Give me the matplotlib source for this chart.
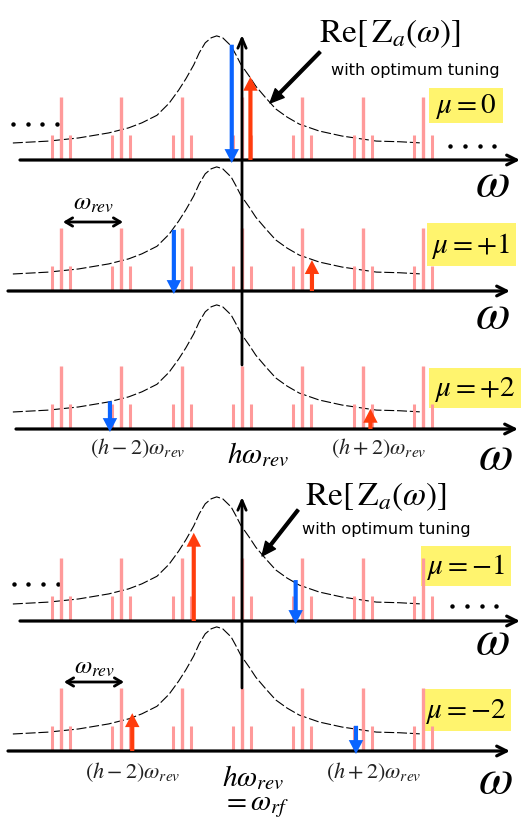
import matplotlib
matplotlib.use('Agg')
import matplotlib.pyplot as plt
from matplotlib.patches import Rectangle

plt.rcParams['mathtext.fontset'] = 'stix'
plt.rcParams['font.family'] = ['DejaVu Sans']

# ---------------- data (x in units of omega_rev, 0 = h*omega_rev) ----------------
harmonics = [-3, -2, -1, 0, 1, 2, 3]
main_amp = 1.0
sideband_offset = 0.15
sideband_amp = 0.40

# Re[Z_a(omega)] curve (amplitude units: main line = 1)
curve_x = [-3.80, -3.21, -2.71, -2.21, -1.88, -1.66, -1.41, -1.21, -1.05, -0.93,
           -0.80, -0.71, -0.61, -0.51, -0.42, -0.32, -0.18, -0.10, -0.02, 0.12,
           0.23, 0.40, 0.56, 0.75, 0.95, 1.28, 1.66, 2.23, 2.61, 2.99]
curve_y = [0.27, 0.30, 0.35, 0.43, 0.51, 0.59, 0.71, 0.90, 1.11, 1.29,
           1.51, 1.70, 1.86, 1.94, 1.97, 1.94, 1.81, 1.67, 1.52, 1.33,
           1.17, 0.98, 0.81, 0.68, 0.57, 0.46, 0.38, 0.30, 0.29, 0.27]

mu_labels = [r'$\mu=0$', r'$\mu=+1$', r'$\mu=+2$', r'$\mu=-1$', r'$\mu=-2$']
blue_pos = [-0.17, -1.13, -2.19, 0.89, 1.89]
blue_amp = [1.83, 0.97, 0.44, 0.65, 0.40]
red_pos = [0.14, 1.16, 2.13, -0.80, -1.82]
red_amp = [1.32, 0.49, 0.32, 1.40, 0.60]

# ---------------- layout ----------------
W, H = 521, 822
PX = 60.3      # pixels per omega_rev
X0 = 242       # pixel x of h*omega_rev
AMP = 63       # pixels per amplitude unit
baselines = [160, 291, 429, 621, 751]
axis_x = [(20, 520), (8, 510), (16, 518), (20, 520), (8, 510)]
boxes = [(429, 88, 503, 123), (427, 223, 516, 266), (429, 368, 521, 408),
         (421, 546, 511, 586), (422, 689, 511, 731)]
omega_lbl = [(492, 182), (492, 314), (495, 455), (492, 640), (495, 779)]

PINK = '#FF9A9A'
BLUE = '#0A64FF'
RED = '#FF3D0D'
YELLOW = '#FFF46E'


def fx(px):
    return (px - X0) / PX


fig = plt.figure(figsize=(W / 100, H / 100), dpi=100)
ax = fig.add_axes([0, 0, 1, 1])
ax.set_xlim(fx(0), fx(W))
ax.set_ylim(H, 0)
ax.axis('off')

simple = 'simple,head_width=0.52,head_length=0.5,tail_width=0.15'

for i, base in enumerate(baselines):
    # yellow box with mu label
    x1, y1, x2, y2 = boxes[i]
    ax.add_patch(Rectangle((fx(x1), y1), fx(x2) - fx(x1), y2 - y1,
                           facecolor=YELLOW, edgecolor='none', zorder=1))
    ax.text(fx((x1 + x2) / 2), (y1 + y2) / 2 + 1, mu_labels[i], fontsize=21,
            ha='center', va='center', zorder=6)

    # resonance curve
    ax.plot(curve_x, [base - v * AMP for v in curve_y], color='black', lw=0.8,
            ls=(0, (9, 2.5)), zorder=2)

    # spectral lines
    for n in harmonics:
        ax.vlines(n, base, base - main_amp * AMP, color=PINK, lw=2.4, zorder=3)
        for s in (-sideband_offset, sideband_offset):
            ax.vlines(n + s, base, base - sideband_amp * AMP, color=PINK,
                      lw=2.2, zorder=3)

    # horizontal axis
    xa, xb = axis_x[i]
    ax.annotate('', xy=(fx(xb), base), xytext=(fx(xa), base),
                arrowprops=dict(arrowstyle='->,head_length=0.7,head_width=0.35',
                                lw=2.3, color='black', shrinkA=0, shrinkB=0),
                zorder=4)
    ax.text(fx(omega_lbl[i][0]), omega_lbl[i][1], r'$\omega$', fontsize=36,
            ha='center', va='center')

    # blue / red arrows
    ax.annotate('', xy=(blue_pos[i], base + 3),
                xytext=(blue_pos[i], base - blue_amp[i] * AMP),
                arrowprops=dict(arrowstyle=simple, color=BLUE, lw=0,
                                mutation_scale=20, shrinkA=0, shrinkB=0),
                zorder=5)
    ax.annotate('', xy=(red_pos[i], base - red_amp[i] * AMP),
                xytext=(red_pos[i], base),
                arrowprops=dict(arrowstyle=simple, color=RED, lw=0,
                                mutation_scale=20, shrinkA=0, shrinkB=0),
                zorder=5)

# vertical axes
for ytop, ybot in [(35, 365), (497, 688)]:
    ax.annotate('', xy=(0, ytop), xytext=(0, ybot),
                arrowprops=dict(arrowstyle='->,head_length=0.7,head_width=0.3',
                                lw=2.0, color='black', shrinkA=0, shrinkB=0),
                zorder=4)

# Re[Z_a] labels + arrows
for (cx, cy), (wx, wy), (a0, a1) in [
        ((390, 34), (415, 70), ((320, 52), (270, 103))),
        ((376, 496), (386, 529), ((298, 510), (262, 556)))]:
    ax.text(fx(cx), cy, r'$\mathrm{Re}\left[\,\mathrm{Z}_a(\omega)\right]$',
            fontsize=24, ha='center', va='center')
    ax.text(fx(wx), wy, 'with optimum tuning', fontsize=11.6, ha='center',
            va='center')
    ax.annotate('', xy=(fx(a1[0]), a1[1]), xytext=(fx(a0[0]), a0[1]),
                arrowprops=dict(arrowstyle='simple,head_width=0.45,head_length=0.5,tail_width=0.1',
                                color='black', mutation_scale=20, shrinkA=0,
                                shrinkB=0))

# omega_rev spacing markers
for (lx, ly), (ax0, ax1, ay) in [((94, 203), (63, 123, 222)),
                                 ((95, 667), (64, 124, 682))]:
    ax.text(fx(lx), ly, r'$\omega_{rev}$', fontsize=18, ha='center', va='center')
    ax.annotate('', xy=(fx(ax1), ay), xytext=(fx(ax0), ay),
                arrowprops=dict(arrowstyle='<->,head_length=0.5,head_width=0.3',
                                lw=2.0, color='black', shrinkA=0, shrinkB=0))

# harmonic labels
for y_side, y_h in [(448, 455), (772, 778)]:
    off = 0 if y_side == 448 else -5
    ax.text(fx(138 + off), y_side, r'$(h-2)\omega_{rev}$', fontsize=16,
            ha='center', va='center', color='#222222')
    ax.text(fx(379 + off), y_side, r'$(h+2)\omega_{rev}$', fontsize=16,
            ha='center', va='center', color='#222222')
    ax.text(fx(258 + off), y_h, r'$h\omega_{rev}$', fontsize=21, ha='center',
            va='center')
ax.text(fx(255), 806, r'$=\omega_{rf}$', fontsize=21, ha='center', va='center')

# ellipsis dots
for xs, y in [((13, 28, 42, 57), 124), ((450, 465, 480, 494), 146),
              ((14, 28, 43, 58), 584), ((452, 467, 482, 496), 606)]:
    ax.plot([fx(v) for v in xs], [y] * 4, 'o', color='black', ms=3.2, mew=0)

fig.savefig('out.png', dpi=100)
